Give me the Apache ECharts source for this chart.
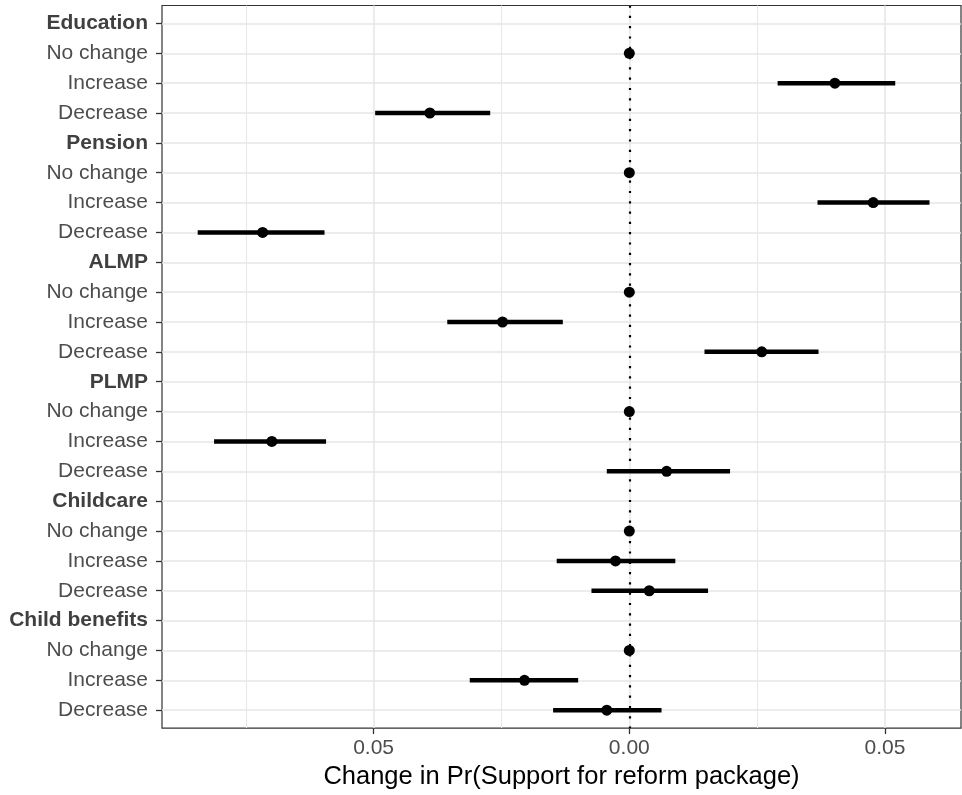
<!DOCTYPE html>
<html>
<head>
<meta charset="utf-8">
<script src="https://cdn.jsdelivr.net/npm/echarts@6/dist/echarts.min.js"></script>
<style>
  html, body { margin: 0; padding: 0; background: #fff; }
  #chart { width: 962px; height: 795px; }
</style>
</head>
<body>
<div id="chart"></div>
<script>
// Row labels, top to bottom
const rowLabels = [
  'Education', 'No change', 'Increase', 'Decrease',
  'Pension', 'No change', 'Increase', 'Decrease',
  'ALMP', 'No change', 'Increase', 'Decrease',
  'PLMP', 'No change', 'Increase', 'Decrease',
  'Childcare', 'No change', 'Increase', 'Decrease',
  'Child benefits', 'No change', 'Increase', 'Decrease'
];
// Rows whose label is a bold group heading
const headerRows = [0, 4, 8, 12, 16, 20];

// Point estimates and 95% interval bounds (null = header row)
const estimate = [
  null, 0, 0.0402, -0.0390,
  null, 0, 0.0477, -0.0717,
  null, 0, -0.0248, 0.0259,
  null, 0, -0.0699, 0.0073,
  null, 0, -0.0027, 0.0039,
  null, 0, -0.0205, -0.0044
];
const lower = [
  null, 0, 0.0290, -0.0497,
  null, 0, 0.0368, -0.0844,
  null, 0, -0.0356, 0.0147,
  null, 0, -0.0812, -0.0044,
  null, 0, -0.0142, -0.0074,
  null, 0, -0.0312, -0.0149
];
const upper = [
  null, 0, 0.0520, -0.0272,
  null, 0, 0.0587, -0.0596,
  null, 0, -0.0130, 0.0370,
  null, 0, -0.0593, 0.0197,
  null, 0, 0.0090, 0.0154,
  null, 0, -0.0100, 0.0063
];

const xTickValues = [-0.05, 0, 0.05];
const xTickLabels = ['0.05', '0.00', '0.05'];
const xMinorValues = [-0.075, -0.025, 0.025];
const xTitle = 'Change in Pr(Support for reform package)';

const FONT = 'Liberation Sans, Arial, Helvetica, sans-serif';
const rowIdx = rowLabels.map((_, i) => i);

const pointData = [];
const barData = [];
rowLabels.forEach((lab, i) => {
  if (estimate[i] !== null) {
    pointData.push([estimate[i], i]);
    barData.push([lower[i], upper[i], i]);
  }
});

const chart = echarts.init(document.getElementById('chart'), null, { renderer: 'canvas' });
chart.setOption({
  backgroundColor: '#ffffff',
  animation: false,
  grid: {
    left: 162, right: 1, top: 5.5, bottom: 66.5,
    show: true, borderColor: '#333333', borderWidth: 1.2, backgroundColor: 'transparent'
  },
  xAxis: [{
    type: 'value',
    min: -0.09138, max: 0.06486,
    position: 'bottom',
    axisLine: { show: false, onZero: false },
    axisTick: { show: true, customValues: xTickValues, length: 6, lineStyle: { color: '#333333', width: 1.3 } },
    axisLabel: {
      customValues: xTickValues,
      margin: 10,
      fontSize: 21, color: '#4d4d4d', fontFamily: FONT,
      formatter: function (v) {
        const k = xTickValues.findIndex(t => Math.abs(t - v) < 1e-9);
        return k >= 0 ? xTickLabels[k] : '';
      }
    },
    splitLine: { show: true, lineStyle: { color: '#E6E6E6', width: 1.5 } },
    name: xTitle,
    nameLocation: 'middle',
    nameGap: 35,
    nameTextStyle: { fontSize: 25.5, color: '#000000', fontFamily: FONT }
  }, {
    type: 'value',
    min: -0.09138, max: 0.06486,
    position: 'bottom',
    axisLine: { show: false, onZero: false },
    axisTick: { show: false, customValues: xMinorValues },
    axisLabel: { show: false, customValues: xMinorValues },
    splitLine: { show: true, lineStyle: { color: '#E8E8E8', width: 1.1 } }
  }],
  yAxis: {
    type: 'value',
    min: -0.6, max: 23.6,
    inverse: true,
    position: 'left',
    axisLine: { show: false, onZero: false },
    axisTick: { show: true, customValues: rowIdx, length: 6, lineStyle: { color: '#333333', width: 1.3 } },
    axisLabel: {
      customValues: rowIdx,
      margin: 14,
      fontSize: 21, color: '#4d4d4d', fontFamily: FONT,
      formatter: function (v) {
        const i = Math.round(v);
        const lab = rowLabels[i];
        if (lab === undefined) return '';
        return headerRows.indexOf(i) >= 0 ? '{b|' + lab + '}' : lab;
      },
      rich: {
        b: { fontWeight: 'bold', fontSize: 21, color: '#404040', fontFamily: FONT }
      }
    },
    splitLine: { show: true, lineStyle: { color: '#E6E6E6', width: 1.5 } }
  },
  series: [{
    type: 'custom',
    xAxisIndex: 0,
    data: barData,
    encode: { x: [0, 1], y: 2 },
    renderItem: function (params, api) {
      const p1 = api.coord([api.value(0), api.value(2)]);
      const p2 = api.coord([api.value(1), api.value(2)]);
      return {
        type: 'line',
        shape: { x1: p1[0], y1: p1[1], x2: p2[0], y2: p2[1] },
        style: { stroke: '#000000', lineWidth: 4.5 }
      };
    },
    z: 3,
    silent: true
  }, {
    type: 'scatter',
    xAxisIndex: 0,
    data: pointData,
    symbol: 'circle',
    symbolSize: 11,
    itemStyle: { color: '#000000', opacity: 1 },
    z: 4,
    silent: true,
    markLine: {
      silent: true,
      symbol: 'none',
      label: { show: false },
      lineStyle: { color: '#000000', type: [2.2, 8.1], width: 2.2, opacity: 1 },
      data: [{ xAxis: 0 }],
      z: 2
    }
  }]
});
</script>
</body>
</html>
